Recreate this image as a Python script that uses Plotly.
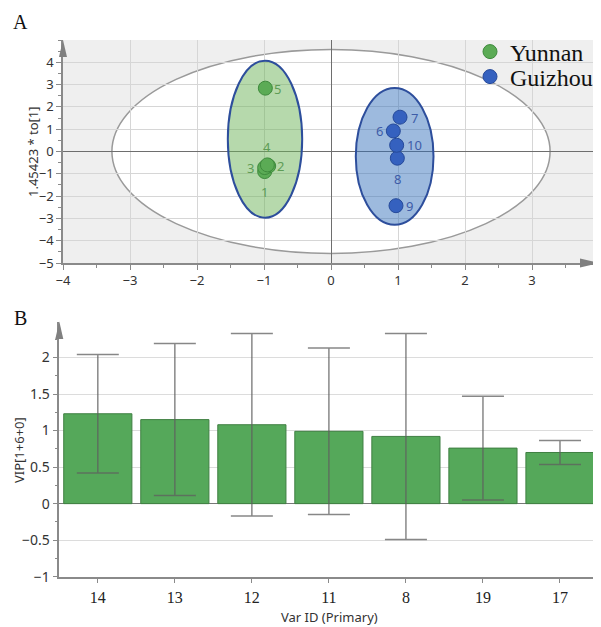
import plotly.graph_objects as go

# the page body has an 8px margin, so the figure is drawn 8px in from the window corner
OX, OY = 8, 8
W, H = 601 - OX, 627 - OY

# ---------------- data: panel A (OPLS-DA scores) ----------------
yunnan_ids = ["1", "2", "3", "4", "5"]
yunnan_t = [-0.99, -0.93, -0.99, -0.95, -0.98]
yunnan_to = [-0.90, -0.65, -0.72, -0.60, 2.84]

guizhou_ids = ["6", "7", "8", "9", "10"]
guizhou_t = [0.93, 1.03, 0.99, 0.97, 0.98]
guizhou_to = [0.92, 1.54, -0.30, -2.43, 0.28]

# confidence ellipses: centre x, centre y, semi-axis x, semi-axis y
hotelling_ellipse = [0.0, 0.0, 3.27, 4.57]
yunnan_ellipse = [-0.985, 0.55, 0.555, 3.52]
guizhou_ellipse = [0.95, -0.22, 0.58, 3.07]

xticks_A = [-4, -3, -2, -1, 0, 1, 2, 3]
yticks_A = [-5, -4, -3, -2, -1, 0, 1, 2, 3, 4]

# ---------------- data: panel B (VIP) ----------------
var_ids = ["14", "13", "12", "11", "8", "19", "17"]
vip = [1.23, 1.15, 1.08, 0.99, 0.92, 0.76, 0.70]
vip_err = [0.81, 1.04, 1.25, 1.14, 1.41, 0.71, 0.165]
yticks_B = [-1, -0.5, 0, 0.5, 1, 1.5, 2]

# ---------------- styles ----------------
SANS = "Noto Sans"
SERIF = "Liberation Serif"
GREEN = "#5bab55"
GREEN_EDGE = "#3e8a3c"
BLUE = "#3561bf"
BLUE_EDGE = "#264a9a"
GREEN_TXT = "#5e9c56"
BLUE_TXT = "#3d5ca8"
AXIS = "#8a8a8a"
GRID = "#d6d6d6"
TICKTXT = "#333333"

# label offsets in pixels (style only)
yunnan_lbl_shift = [(0, -20), (12, 0), (-14, 0), (0, 18), (12, -1)]
guizhou_lbl_shift = [(-14, 0), (14, -1), (0, -21), (14, 0), (18, 0)]


def px(x):
    return (x - OX) / W


def py(y):
    return 1 - (y - OY) / H


fig = go.Figure()

fig.add_trace(go.Scatter(
    x=yunnan_t, y=yunnan_to, mode="markers", name="Yunnan", legend="legend",
    marker=dict(size=14, color=GREEN, line=dict(color=GREEN_EDGE, width=1)),
    xaxis="x", yaxis="y",
))
fig.add_trace(go.Scatter(
    x=guizhou_t, y=guizhou_to, mode="markers", name="Guizhou", legend="legend2",
    marker=dict(size=14, color=BLUE, line=dict(color=BLUE_EDGE, width=1)),
    xaxis="x", yaxis="y",
))

fig.add_trace(go.Bar(
    x=var_ids, y=vip, xaxis="x2", yaxis="y2", showlegend=False,
    marker=dict(color="#55a85a", line=dict(color="#3f7f42", width=1)),
    error_y=dict(type="data", array=vip_err, symmetric=True,
                 color="rgba(95,95,95,0.75)", thickness=1.5, width=21),
))

shapes = []
# grey background of panel A
shapes.append(dict(type="rect", xref="x domain", yref="y domain", x0=0, x1=1, y0=0, y1=1,
                   fillcolor="#efefef", line=dict(width=0), layer="below"))
# Hotelling T2 ellipse
cx, cy, ax_, ay_ = hotelling_ellipse
shapes.append(dict(type="circle", xref="x", yref="y", x0=cx - ax_, x1=cx + ax_,
                   y0=cy - ay_, y1=cy + ay_, fillcolor="white",
                   line=dict(color="#9a9a9a", width=1.5), layer="below"))
for (cx, cy, ax_, ay_), fill in [(yunnan_ellipse, "rgba(110,180,90,0.5)"),
                                 (guizhou_ellipse, "rgba(50,110,185,0.48)")]:
    shapes.append(dict(type="circle", xref="x", yref="y", x0=cx - ax_, x1=cx + ax_,
                       y0=cy - ay_, y1=cy + ay_, fillcolor=fill,
                       line=dict(color="#2d4e9c", width=2), layer="between"))


# axis arrows
def tri(points):
    p = "M " + " L ".join(f"{px(a):.5f},{py(b):.5f}" for a, b in points) + " Z"
    return dict(type="path", xref="paper", yref="paper", path=p,
                fillcolor="#808080", line=dict(width=0))


shapes.append(tri([(63, 40), (59, 57), (67, 57)]))
shapes.append(tri([(600, 263), (580, 258.5), (580, 267.5)]))
shapes.append(tri([(59.3, 321.5), (55.3, 339), (63.3, 339)]))

annotations = []
for ids, xs, ys, shifts, col in [(yunnan_ids, yunnan_t, yunnan_to, yunnan_lbl_shift, GREEN_TXT),
                                 (guizhou_ids, guizhou_t, guizhou_to, guizhou_lbl_shift, BLUE_TXT)]:
    for lab, xv, yv, (dx, dy) in zip(ids, xs, ys, shifts):
        annotations.append(dict(x=xv, y=yv, xref="x", yref="y", text=lab, showarrow=False,
                                xshift=dx, yshift=dy, xanchor="center", yanchor="middle",
                                font=dict(family=SANS, size=13, color=col)))


def label(x, y, text, family, size, angle=0):
    return dict(x=px(x), y=py(y), xref="paper", yref="paper", text=text, showarrow=False,
                xanchor="center", yanchor="middle", textangle=angle,
                font=dict(family=family, size=size, color="#111" if family == SERIF else TICKTXT))


annotations += [
    label(20, 22, "A", SERIF, 20),
    label(20, 318, "B", SERIF, 20),
    label(33, 152, "1.45423 * to[1]", SANS, 13, -90),
    label(19, 450, "VIP[1+6+0]", SANS, 13, -90),
    label(329, 617, "Var ID (Primary)", SANS, 13),
]

common_axis = dict(automargin=False, showline=True, linecolor=AXIS, linewidth=1.5,
                   ticks="outside", ticklen=5, tickcolor=AXIS)
legend_style = dict(xanchor="left", yanchor="middle", bgcolor="rgba(0,0,0,0)",
                    font=dict(family=SERIF, size=24, color="#111"), itemwidth=30,
                    borderwidth=0)

fig.update_layout(
    width=W, height=H, autosize=False,
    margin=dict(l=0, r=0, t=0, b=0, autoexpand=False),
    paper_bgcolor="white", plot_bgcolor="white",
    shapes=shapes, annotations=annotations,
    bargap=0.115,
    legend=dict(x=px(470), y=py(52), **legend_style),
    legend2=dict(x=px(470), y=py(77), **legend_style),
    xaxis=dict(domain=[px(63), px(598)], range=[-4, 3.985], anchor="y",
               tickvals=xticks_A, showgrid=True, gridcolor=GRID, gridwidth=1,
               zeroline=True, zerolinecolor="#6e6e6e", zerolinewidth=1.2,
               minor=dict(dtick=0.5, ticklen=3, tickcolor=AXIS, showgrid=False),
               tickfont=dict(family=SANS, size=13, color=TICKTXT), **common_axis),
    yaxis=dict(domain=[py(263), py(40)], range=[-5, 5], anchor="x",
               tickvals=yticks_A, showgrid=True, gridcolor=GRID, gridwidth=1,
               zeroline=True, zerolinecolor="#6e6e6e", zerolinewidth=1.2,
               minor=dict(dtick=0.5, ticklen=3, tickcolor=AXIS, showgrid=False),
               tickfont=dict(family=SANS, size=13, color=TICKTXT), **common_axis),
    xaxis2=dict(domain=[px(59.3), px(598.5)], range=[-0.5, 6.5], anchor="y2",
                type="category", showgrid=False, zeroline=False,
                tickfont=dict(family=SERIF, size=16, color="#222"), **common_axis),
    yaxis2=dict(domain=[py(576.7), py(321.7)], range=[-1, 2.49], anchor="x2",
                tickvals=yticks_B, showgrid=True, gridcolor="#dcdcdc", gridwidth=1,
                zeroline=True, zerolinecolor="#777777", zerolinewidth=1.2,
                minor=dict(dtick=0.25, ticklen=3, tickcolor=AXIS, showgrid=False),
                tickfont=dict(family=SANS, size=14, color=TICKTXT), **common_axis),
)

fig.write_html("out.html")
